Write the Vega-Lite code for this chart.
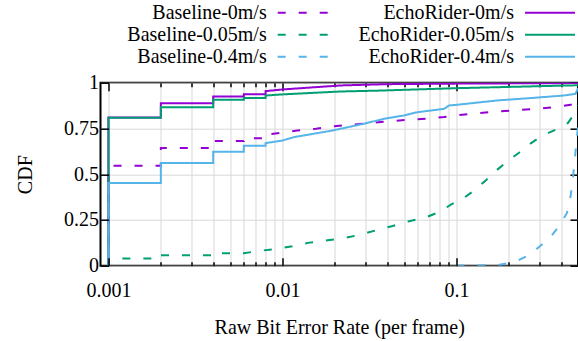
{
  "$schema": "https://vega.github.io/schema/vega-lite/v6.json",
  "padding": {"left": 13.5, "top": 1.7, "right": 0, "bottom": 0},
  "background": "white",
  "config": {"font": "Liberation Serif", "text": {"font": "Liberation Serif"}, "mark": {"font": "Liberation Serif"}, "concat": {"spacing": 4}},
  "datasets": {
    "keys": [
      {"series": "Baseline-0m/s", "method": "Baseline", "speed": "0m/s"},
      {"series": "Baseline-0.05m/s", "method": "Baseline", "speed": "0.05m/s"},
      {"series": "Baseline-0.4m/s", "method": "Baseline", "speed": "0.4m/s"},
      {"series": "EchoRider-0m/s", "method": "EchoRider", "speed": "0m/s"},
      {"series": "EchoRider-0.05m/s", "method": "EchoRider", "speed": "0.05m/s"},
      {"series": "EchoRider-0.4m/s", "method": "EchoRider", "speed": "0.4m/s"}
    ],
    "curves": [
      {"series": "Baseline-0m/s", "ber": 0.001, "cdf": 0},
      {"series": "Baseline-0m/s", "ber": 0.001, "cdf": 0.546},
      {"series": "Baseline-0m/s", "ber": 0.002, "cdf": 0.546},
      {"series": "Baseline-0m/s", "ber": 0.002, "cdf": 0.643},
      {"series": "Baseline-0m/s", "ber": 0.004, "cdf": 0.643},
      {"series": "Baseline-0m/s", "ber": 0.004, "cdf": 0.681},
      {"series": "Baseline-0m/s", "ber": 0.006, "cdf": 0.681},
      {"series": "Baseline-0m/s", "ber": 0.006, "cdf": 0.697},
      {"series": "Baseline-0m/s", "ber": 0.008, "cdf": 0.697},
      {"series": "Baseline-0m/s", "ber": 0.008, "cdf": 0.716},
      {"series": "Baseline-0m/s", "ber": 0.01, "cdf": 0.727},
      {"series": "Baseline-0m/s", "ber": 0.0122, "cdf": 0.739},
      {"series": "Baseline-0m/s", "ber": 0.0156, "cdf": 0.748},
      {"series": "Baseline-0m/s", "ber": 0.0199, "cdf": 0.762},
      {"series": "Baseline-0m/s", "ber": 0.0247, "cdf": 0.77},
      {"series": "Baseline-0m/s", "ber": 0.041, "cdf": 0.79},
      {"series": "Baseline-0m/s", "ber": 0.0667, "cdf": 0.803},
      {"series": "Baseline-0m/s", "ber": 0.085, "cdf": 0.812},
      {"series": "Baseline-0m/s", "ber": 0.108, "cdf": 0.825},
      {"series": "Baseline-0m/s", "ber": 0.135, "cdf": 0.834},
      {"series": "Baseline-0m/s", "ber": 0.176, "cdf": 0.843},
      {"series": "Baseline-0m/s", "ber": 0.224, "cdf": 0.85},
      {"series": "Baseline-0m/s", "ber": 0.285, "cdf": 0.857},
      {"series": "Baseline-0m/s", "ber": 0.363, "cdf": 0.865},
      {"series": "Baseline-0m/s", "ber": 0.453, "cdf": 0.879},
      {"series": "Baseline-0m/s", "ber": 0.5, "cdf": 0.894},

      {"series": "Baseline-0.05m/s", "ber": 0.001, "cdf": 0},
      {"series": "Baseline-0.05m/s", "ber": 0.001, "cdf": 0.039},
      {"series": "Baseline-0.05m/s", "ber": 0.002, "cdf": 0.039},
      {"series": "Baseline-0.05m/s", "ber": 0.002, "cdf": 0.057},
      {"series": "Baseline-0.05m/s", "ber": 0.004, "cdf": 0.057},
      {"series": "Baseline-0.05m/s", "ber": 0.004, "cdf": 0.068},
      {"series": "Baseline-0.05m/s", "ber": 0.006, "cdf": 0.068},
      {"series": "Baseline-0.05m/s", "ber": 0.0072, "cdf": 0.08},
      {"series": "Baseline-0.05m/s", "ber": 0.0092, "cdf": 0.091},
      {"series": "Baseline-0.05m/s", "ber": 0.0114, "cdf": 0.106},
      {"series": "Baseline-0.05m/s", "ber": 0.0143, "cdf": 0.126},
      {"series": "Baseline-0.05m/s", "ber": 0.0182, "cdf": 0.139},
      {"series": "Baseline-0.05m/s", "ber": 0.0226, "cdf": 0.151},
      {"series": "Baseline-0.05m/s", "ber": 0.0282, "cdf": 0.17},
      {"series": "Baseline-0.05m/s", "ber": 0.0344, "cdf": 0.193},
      {"series": "Baseline-0.05m/s", "ber": 0.043, "cdf": 0.217},
      {"series": "Baseline-0.05m/s", "ber": 0.0527, "cdf": 0.242},
      {"series": "Baseline-0.05m/s", "ber": 0.065, "cdf": 0.26},
      {"series": "Baseline-0.05m/s", "ber": 0.0794, "cdf": 0.293},
      {"series": "Baseline-0.05m/s", "ber": 0.0935, "cdf": 0.335},
      {"series": "Baseline-0.05m/s", "ber": 0.111, "cdf": 0.372},
      {"series": "Baseline-0.05m/s", "ber": 0.129, "cdf": 0.417},
      {"series": "Baseline-0.05m/s", "ber": 0.149, "cdf": 0.47},
      {"series": "Baseline-0.05m/s", "ber": 0.17, "cdf": 0.521},
      {"series": "Baseline-0.05m/s", "ber": 0.196, "cdf": 0.57},
      {"series": "Baseline-0.05m/s", "ber": 0.229, "cdf": 0.617},
      {"series": "Baseline-0.05m/s", "ber": 0.265, "cdf": 0.666},
      {"series": "Baseline-0.05m/s", "ber": 0.308, "cdf": 0.708},
      {"series": "Baseline-0.05m/s", "ber": 0.375, "cdf": 0.745},
      {"series": "Baseline-0.05m/s", "ber": 0.437, "cdf": 0.779},
      {"series": "Baseline-0.05m/s", "ber": 0.484, "cdf": 0.839},
      {"series": "Baseline-0.05m/s", "ber": 0.5, "cdf": 0.875},

      {"series": "Baseline-0.4m/s", "ber": 0.1, "cdf": 0},
      {"series": "Baseline-0.4m/s", "ber": 0.172, "cdf": 0.003},
      {"series": "Baseline-0.4m/s", "ber": 0.217, "cdf": 0.02},
      {"series": "Baseline-0.4m/s", "ber": 0.261, "cdf": 0.057},
      {"series": "Baseline-0.4m/s", "ber": 0.302, "cdf": 0.106},
      {"series": "Baseline-0.4m/s", "ber": 0.348, "cdf": 0.157},
      {"series": "Baseline-0.4m/s", "ber": 0.393, "cdf": 0.221},
      {"series": "Baseline-0.4m/s", "ber": 0.432, "cdf": 0.288},
      {"series": "Baseline-0.4m/s", "ber": 0.453, "cdf": 0.378},
      {"series": "Baseline-0.4m/s", "ber": 0.467, "cdf": 0.47},
      {"series": "Baseline-0.4m/s", "ber": 0.49, "cdf": 0.675},
      {"series": "Baseline-0.4m/s", "ber": 0.5, "cdf": 0.76},

      {"series": "EchoRider-0m/s", "ber": 0.001, "cdf": 0},
      {"series": "EchoRider-0m/s", "ber": 0.001, "cdf": 0.81},
      {"series": "EchoRider-0m/s", "ber": 0.002, "cdf": 0.81},
      {"series": "EchoRider-0m/s", "ber": 0.002, "cdf": 0.888},
      {"series": "EchoRider-0m/s", "ber": 0.004, "cdf": 0.888},
      {"series": "EchoRider-0m/s", "ber": 0.004, "cdf": 0.925},
      {"series": "EchoRider-0m/s", "ber": 0.006, "cdf": 0.925},
      {"series": "EchoRider-0m/s", "ber": 0.006, "cdf": 0.937},
      {"series": "EchoRider-0m/s", "ber": 0.008, "cdf": 0.937},
      {"series": "EchoRider-0m/s", "ber": 0.008, "cdf": 0.954},
      {"series": "EchoRider-0m/s", "ber": 0.01, "cdf": 0.963},
      {"series": "EchoRider-0m/s", "ber": 0.0216, "cdf": 0.985},
      {"series": "EchoRider-0m/s", "ber": 0.04, "cdf": 0.992},
      {"series": "EchoRider-0m/s", "ber": 0.1, "cdf": 0.995},
      {"series": "EchoRider-0m/s", "ber": 0.5, "cdf": 0.998},

      {"series": "EchoRider-0.05m/s", "ber": 0.001, "cdf": 0},
      {"series": "EchoRider-0.05m/s", "ber": 0.001, "cdf": 0.808},
      {"series": "EchoRider-0.05m/s", "ber": 0.002, "cdf": 0.808},
      {"series": "EchoRider-0.05m/s", "ber": 0.002, "cdf": 0.866},
      {"series": "EchoRider-0.05m/s", "ber": 0.004, "cdf": 0.866},
      {"series": "EchoRider-0.05m/s", "ber": 0.004, "cdf": 0.907},
      {"series": "EchoRider-0.05m/s", "ber": 0.006, "cdf": 0.907},
      {"series": "EchoRider-0.05m/s", "ber": 0.006, "cdf": 0.916},
      {"series": "EchoRider-0.05m/s", "ber": 0.008, "cdf": 0.916},
      {"series": "EchoRider-0.05m/s", "ber": 0.008, "cdf": 0.93},
      {"series": "EchoRider-0.05m/s", "ber": 0.01, "cdf": 0.936},
      {"series": "EchoRider-0.05m/s", "ber": 0.0216, "cdf": 0.952},
      {"series": "EchoRider-0.05m/s", "ber": 0.0368, "cdf": 0.957},
      {"series": "EchoRider-0.05m/s", "ber": 0.1, "cdf": 0.97},
      {"series": "EchoRider-0.05m/s", "ber": 0.5, "cdf": 0.986},

      {"series": "EchoRider-0.4m/s", "ber": 0.001, "cdf": 0},
      {"series": "EchoRider-0.4m/s", "ber": 0.001, "cdf": 0.452},
      {"series": "EchoRider-0.4m/s", "ber": 0.002, "cdf": 0.452},
      {"series": "EchoRider-0.4m/s", "ber": 0.002, "cdf": 0.561},
      {"series": "EchoRider-0.4m/s", "ber": 0.004, "cdf": 0.561},
      {"series": "EchoRider-0.4m/s", "ber": 0.004, "cdf": 0.623},
      {"series": "EchoRider-0.4m/s", "ber": 0.006, "cdf": 0.623},
      {"series": "EchoRider-0.4m/s", "ber": 0.006, "cdf": 0.655},
      {"series": "EchoRider-0.4m/s", "ber": 0.008, "cdf": 0.655},
      {"series": "EchoRider-0.4m/s", "ber": 0.008, "cdf": 0.67},
      {"series": "EchoRider-0.4m/s", "ber": 0.01, "cdf": 0.684},
      {"series": "EchoRider-0.4m/s", "ber": 0.0117, "cdf": 0.703},
      {"series": "EchoRider-0.4m/s", "ber": 0.019, "cdf": 0.737},
      {"series": "EchoRider-0.4m/s", "ber": 0.0295, "cdf": 0.776},
      {"series": "EchoRider-0.4m/s", "ber": 0.0384, "cdf": 0.803},
      {"series": "EchoRider-0.4m/s", "ber": 0.05, "cdf": 0.821},
      {"series": "EchoRider-0.4m/s", "ber": 0.0597, "cdf": 0.839},
      {"series": "EchoRider-0.4m/s", "ber": 0.085, "cdf": 0.857},
      {"series": "EchoRider-0.4m/s", "ber": 0.0908, "cdf": 0.876},
      {"series": "EchoRider-0.4m/s", "ber": 0.1, "cdf": 0.879},
      {"series": "EchoRider-0.4m/s", "ber": 0.172, "cdf": 0.903},
      {"series": "EchoRider-0.4m/s", "ber": 0.267, "cdf": 0.916},
      {"series": "EchoRider-0.4m/s", "ber": 0.415, "cdf": 0.93},
      {"series": "EchoRider-0.4m/s", "ber": 0.484, "cdf": 0.939},
      {"series": "EchoRider-0.4m/s", "ber": 0.5, "cdf": 0.97}
    ]
  },
  "vconcat": [
    {
      "width": 477.5,
      "height": 66,
      "data": {"name": "keys"},
      "view": {"stroke": null},
      "encoding": {
        "x": {"field": "method", "type": "nominal", "scale": {"type": "point", "domain": ["Baseline", "EchoRider"], "padding": 0.4654, "align": 0.722}, "axis": null},
        "y": {"field": "speed", "type": "nominal", "scale": {"type": "point", "domain": ["0m/s", "0.05m/s", "0.4m/s"], "padding": 0.5}, "axis": null}
      },
      "layer": [
        {
          "mark": {"type": "text", "align": "right", "baseline": "middle", "fontSize": 20, "font": "Liberation Serif", "fontWeight": "normal", "color": "black"},
          "encoding": {"text": {"field": "series", "type": "nominal"}}
        },
        {
          "mark": {"type": "rule", "strokeWidth": 2, "xOffset": 11, "x2Offset": 61},
          "encoding": {
            "x2": {"field": "method"},
            "color": {"field": "series", "type": "nominal", "legend": null, "scale": {"domain": ["Baseline-0m/s", "Baseline-0.05m/s", "Baseline-0.4m/s", "EchoRider-0m/s", "EchoRider-0.05m/s", "EchoRider-0.4m/s"], "range": ["#9400d3", "#009e73", "#56b4e9", "#9400d3", "#009e73", "#56b4e9"]}},
            "strokeDash": {"field": "series", "type": "nominal", "legend": null, "scale": {"domain": ["Baseline-0m/s", "Baseline-0.05m/s", "Baseline-0.4m/s", "EchoRider-0m/s", "EchoRider-0.05m/s", "EchoRider-0.4m/s"], "range": [[8, 13], [8, 13], [8, 13], [1, 0], [1, 0], [1, 0]]}}
          }
        }
      ]
    },
    {
      "width": 477.5,
      "height": 183,
      "data": {"name": "curves"},
      "view": {"stroke": "black", "strokeWidth": 2},
      "resolve": {"axis": {"x": "independent", "y": "independent"}},
      "layer": [
        {
          "transform": [{"filter": "indexof(datum.series, 'Baseline') == 0"}],
          "mark": {"type": "line", "strokeWidth": 2, "clip": true},
          "encoding": {
            "x": {
              "field": "ber", "type": "quantitative",
              "scale": {"type": "log", "domain": [0.0009, 0.5], "nice": false},
              "axis": {
                "orient": "bottom",
                "values": [0.001, 0.002, 0.003, 0.004, 0.005, 0.006, 0.007, 0.008, 0.009, 0.01, 0.02, 0.03, 0.04, 0.05, 0.06, 0.07, 0.08, 0.09, 0.1, 0.2, 0.3, 0.4, 0.5],
                "format": "~g",
                "labelExpr": "datum.value == 0.001 || datum.value == 0.01 || datum.value == 0.1 ? datum.label : ''",
                "grid": false, "domain": false,
                "tickColor": "black", "tickWidth": 1.5,
                "tickSize": {"condition": {"test": "datum.value == 0.001 || datum.value == 0.01 || datum.value == 0.1", "value": -8}, "value": -4},
                "labelFont": "Liberation Serif", "labelFontSize": 20, "labelColor": "black", "labelPadding": 22.5, "labelFlush": false,
                "title": "Raw Bit Error Rate (per frame)", "titleFont": "Liberation Serif", "titleFontSize": 20, "titleFontWeight": "normal", "titleColor": "black", "titlePadding": 17,
                "zindex": 1
              }
            },
            "y": {
              "field": "cdf", "type": "quantitative",
              "scale": {"domain": [0, 1], "nice": false},
              "axis": {
                "orient": "left",
                "values": [0, 0.25, 0.5, 0.75, 1],
                "format": ".2~f",
                "grid": false, "domain": false,
                "tickColor": "black", "tickWidth": 1.5, "tickSize": -8,
                "labelFont": "Liberation Serif", "labelFontSize": 20, "labelColor": "black", "labelPadding": 10,
                "title": "CDF", "titleFont": "Liberation Serif", "titleFontSize": 20, "titleFontWeight": "normal", "titleColor": "black", "titlePadding": 28.5,
                "zindex": 1
              }
            },
            "color": {"field": "series", "type": "nominal", "legend": null, "scale": {"domain": ["Baseline-0m/s", "Baseline-0.05m/s", "Baseline-0.4m/s", "EchoRider-0m/s", "EchoRider-0.05m/s", "EchoRider-0.4m/s"], "range": ["#9400d3", "#009e73", "#56b4e9", "#9400d3", "#009e73", "#56b4e9"]}},
            "strokeDash": {"field": "series", "type": "nominal", "legend": null, "scale": {"domain": ["Baseline-0m/s", "Baseline-0.05m/s", "Baseline-0.4m/s", "EchoRider-0m/s", "EchoRider-0.05m/s", "EchoRider-0.4m/s"], "range": [[8, 13], [8, 13], [8, 13], [1, 0], [1, 0], [1, 0]]}}
          }
        },
        {
          "transform": [{"filter": "indexof(datum.series, 'EchoRider') == 0"}],
          "mark": {"type": "line", "strokeWidth": 2, "clip": true},
          "encoding": {
            "x": {
              "field": "ber", "type": "quantitative",
              "scale": {"type": "log", "domain": [0.0009, 0.5], "nice": false},
              "axis": {
                "orient": "top",
                "values": [0.001, 0.002, 0.003, 0.004, 0.005, 0.006, 0.007, 0.008, 0.009, 0.01, 0.02, 0.03, 0.04, 0.05, 0.06, 0.07, 0.08, 0.09, 0.1, 0.2, 0.3, 0.4, 0.5],
                "labels": false, "domain": false, "title": null,
                "grid": true, "gridColor": "#d8d8d8", "gridWidth": 1,
                "tickColor": "black", "tickWidth": 1.5,
                "tickSize": {"condition": {"test": "datum.value == 0.001 || datum.value == 0.01 || datum.value == 0.1", "value": -8}, "value": -4},
                "zindex": 0
              }
            },
            "y": {
              "field": "cdf", "type": "quantitative",
              "scale": {"domain": [0, 1], "nice": false},
              "axis": {
                "orient": "right",
                "values": [0, 0.25, 0.5, 0.75, 1],
                "labels": false, "domain": false, "title": null,
                "grid": true, "gridColor": "#d8d8d8", "gridWidth": 1,
                "tickColor": "black", "tickWidth": 1.5, "tickSize": -8,
                "zindex": 0
              }
            },
            "color": {"field": "series", "type": "nominal", "legend": null, "scale": {"domain": ["Baseline-0m/s", "Baseline-0.05m/s", "Baseline-0.4m/s", "EchoRider-0m/s", "EchoRider-0.05m/s", "EchoRider-0.4m/s"], "range": ["#9400d3", "#009e73", "#56b4e9", "#9400d3", "#009e73", "#56b4e9"]}},
            "strokeDash": {"field": "series", "type": "nominal", "legend": null, "scale": {"domain": ["Baseline-0m/s", "Baseline-0.05m/s", "Baseline-0.4m/s", "EchoRider-0m/s", "EchoRider-0.05m/s", "EchoRider-0.4m/s"], "range": [[8, 13], [8, 13], [8, 13], [1, 0], [1, 0], [1, 0]]}}
          }
        }
      ]
    }
  ]
}
